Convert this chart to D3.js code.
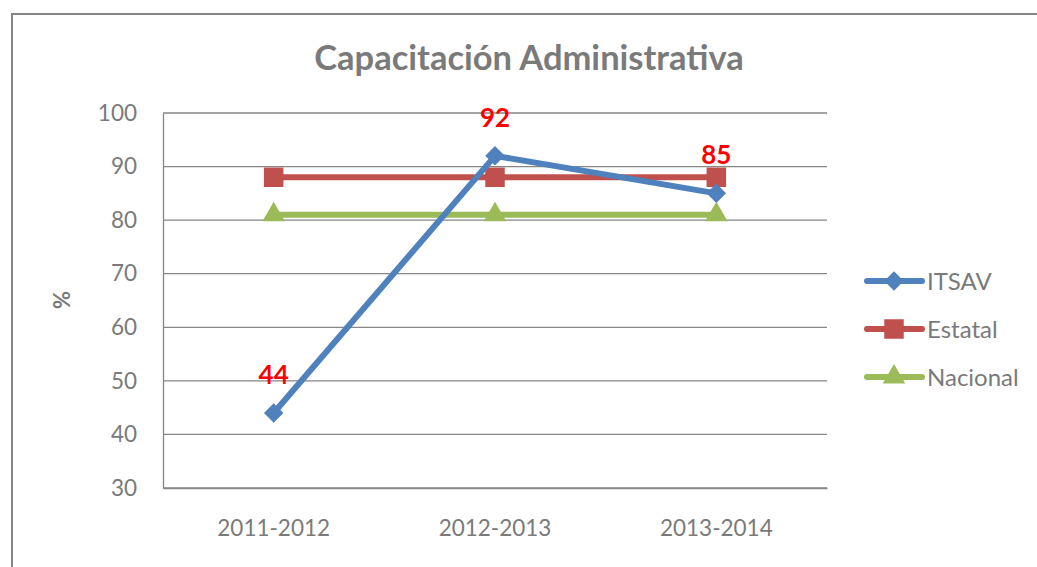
<!DOCTYPE html>
<html>
<head>
<meta charset="utf-8">
<script src="https://cdn.jsdelivr.net/npm/d3@7"></script>
<style>
  body { margin: 0; background: #fff; }
  svg text { font-family: Lato, "Open Sans", sans-serif; }
</style>
</head>
<body>
<svg id="chart"></svg>
<script>
const categories = ["2011-2012", "2012-2013", "2013-2014"];
const itsav = [44, 92, 85];
const estatal = [88, 88, 88];
const nacional = [81, 81, 81];
const yTicks = [30, 40, 50, 60, 70, 80, 90, 100];
const seriesNames = ["ITSAV", "Estatal", "Nacional"];

const width = 1037, height = 567;
const plot = { left: 163, right: 827, top: 113, bottom: 488 };
const gray = "#7a7a7a";

const series = [
  { name: seriesNames[0], values: itsav, color: "#4f81bd", marker: d3.symbolSquare, size: 190, rotate: 45 },
  { name: seriesNames[1], values: estatal, color: "#c0504d", marker: d3.symbolSquare, size: 380, rotate: 0 },
  { name: seriesNames[2], values: nacional, color: "#9bbb59", marker: d3.symbolTriangle, size: 220, rotate: 0 }
];

const svg = d3.select("#chart").attr("width", width).attr("height", height);

/* chart border */
svg.append("rect")
  .attr("x", 12).attr("y", 14)
  .attr("width", width + 20).attr("height", height + 20)
  .attr("fill", "none").attr("stroke", "#868686").attr("stroke-width", 2);

/* title */
svg.append("text")
  .attr("x", 529).attr("y", 70)
  .attr("text-anchor", "middle")
  .attr("font-size", 34.5).attr("font-weight", "bold")
  .attr("fill", gray)
  .text("Capacitación Administrativa");

/* scales */
const xScale = d3.scaleBand().domain(categories).range([plot.left, plot.right]);
const yScale = d3.scaleLinear().domain([30, 100]).range([plot.bottom, plot.top]);
const cx = (i) => xScale(categories[i]) + xScale.bandwidth() / 2;

/* gridlines */
svg.append("g")
  .selectAll("line")
  .data(yTicks)
  .enter()
  .append("line")
  .attr("x1", plot.left).attr("x2", plot.right)
  .attr("y1", (d) => yScale(d)).attr("y2", (d) => yScale(d))
  .attr("stroke", "#868686").attr("stroke-width", 1.3);

/* y axis */
const yAxis = d3.axisLeft(yScale).tickValues(yTicks).tickSize(0).tickPadding(26);
const gy = svg.append("g").attr("transform", `translate(${plot.left},0)`).call(yAxis);
gy.select(".domain").attr("stroke", "#868686").attr("stroke-width", 1.3);
gy.selectAll("text")
  .attr("font-size", 22.5).attr("fill", gray)
  .attr("font-family", "Lato, sans-serif");

/* x axis */
const xAxis = d3.axisBottom(xScale).tickSize(0).tickPadding(32);
const gx = svg.append("g").attr("transform", `translate(0,${plot.bottom})`).call(xAxis);
gx.select(".domain").attr("stroke", "#868686").attr("stroke-width", 1.3);
gx.selectAll("text")
  .attr("font-size", 22.5).attr("fill", gray)
  .attr("font-family", "Lato, sans-serif");

/* y axis title */
svg.append("text")
  .attr("transform", "translate(70,300) rotate(-90)")
  .attr("text-anchor", "middle")
  .attr("font-size", 22).attr("font-weight", "bold")
  .attr("fill", gray)
  .text("%");

/* lines + markers */
const line = d3.line()
  .x((d, i) => cx(i))
  .y((d) => yScale(d));

// green first, blue on top
series.slice().reverse().forEach((s) => {
  svg.append("path")
    .datum(s.values)
    .attr("d", line)
    .attr("fill", "none")
    .attr("stroke", s.color)
    .attr("stroke-width", 6)
    .attr("stroke-linejoin", "round");

  svg.append("g")
    .selectAll("path")
    .data(s.values)
    .enter()
    .append("path")
    .attr("d", d3.symbol().type(s.marker).size(s.size))
    .attr("transform", (d, i) => `translate(${cx(i)},${yScale(d)}) rotate(${s.rotate})`)
    .attr("fill", s.color);
});

/* data labels */
svg.append("g")
  .selectAll("text")
  .data(itsav)
  .enter()
  .append("text")
  .attr("x", (d, i) => cx(i))
  .attr("y", (d) => yScale(d) - 29)
  .attr("text-anchor", "middle")
  .attr("font-size", 26).attr("font-weight", "bold")
  .attr("fill", "#ff0000")
  .text((d) => d);

/* legend */
const legend = svg.append("g")
  .selectAll("g")
  .data(series)
  .enter()
  .append("g")
  .attr("transform", (d, i) => `translate(867,${281 + i * 48})`);

legend.append("line")
  .attr("x1", 0).attr("x2", 55)
  .attr("stroke", (d) => d.color)
  .attr("stroke-width", 6)
  .attr("stroke-linecap", "round");

legend.append("path")
  .attr("d", (d) => d3.symbol().type(d.marker).size(d.size)())
  .attr("transform", (d) => `translate(27,0) rotate(${d.rotate})`)
  .attr("fill", (d) => d.color);

legend.append("text")
  .attr("x", 60).attr("dy", "0.36em")
  .attr("font-size", 24).attr("fill", gray)
  .text((d) => d.name);
</script>
</body>
</html>
